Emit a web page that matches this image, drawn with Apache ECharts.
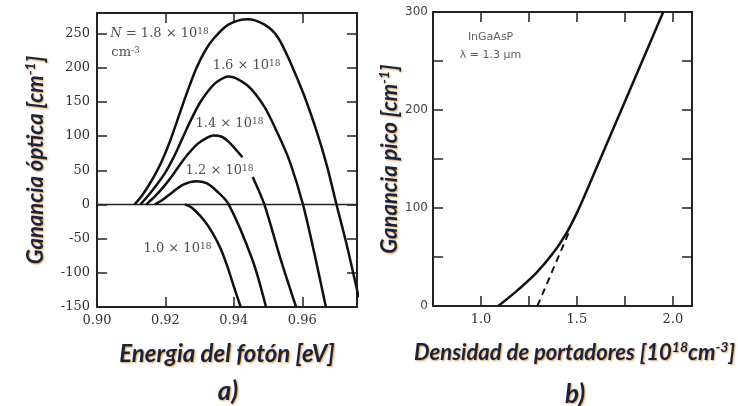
<!DOCTYPE html>
<html><head><meta charset="utf-8">
<script src="https://cdn.jsdelivr.net/npm/echarts@6/dist/echarts.min.js"></script>
<style>html,body{margin:0;padding:0;background:#fff}#c{width:738px;height:406px}</style>
</head><body><div id="c"></div>
<script>
// ---- panel a) : gain spectra, photon energy [eV] vs gain [cm^-1]
const curveN18 = [[0.911,0],[0.913,12],[0.915,27],[0.917,44],[0.919,64],[0.921,88],[0.923,116],[0.925,145],[0.927,173],[0.9291,200],[0.9315,224],[0.934,242],[0.9384,263],[0.944,271],[0.949,263],[0.9528,245],[0.9566,207],[0.9605,160],[0.9644,104],[0.9673,55],[0.970,0],[0.9728,-55],[0.9757,-118],[0.9765,-136]];
const curveN16 = [[0.9127,0],[0.915,13],[0.9175,29],[0.920,47],[0.9225,70],[0.925,97],[0.9275,124],[0.930,148],[0.9325,166],[0.935,179],[0.9385,187],[0.944,174],[0.9489,143],[0.9528,104],[0.9564,62],[0.9602,0],[0.964,-82],[0.9669,-150]];
const curveN14 = [[0.9144,0],[0.917,12],[0.9195,26],[0.922,42],[0.9245,60],[0.927,76],[0.9295,89],[0.932,97],[0.934,101],[0.9365,99],[0.9388,90],[0.9425,69],[0.944,'-'],[0.9455,40],[0.9489,0],[0.9538,-82],[0.9582,-150]];
const curveN12 = [[0.9169,0],[0.919,6],[0.9213,15],[0.9252,29],[0.9291,34],[0.932,31],[0.9349,20],[0.9385,0],[0.9455,-82],[0.9494,-150]];
const curveN10 = [[0.9257,0],[0.928,-6],[0.932,-28],[0.9359,-62],[0.9382,-92],[0.940,-120],[0.942,-150]];
const zeroLine = [[0.90,0],[0.976,0]];
const aXTicks = [0.90,0.92,0.94,0.96];
const aYTicks = [-150,-100,-50,0,50,100,150,200,250];
const aCurveLabels = ['1.6 × 10{sup|18}','1.4 × 10{sup|18}','1.2 × 10{sup|18}','1.0 × 10{sup|18}'];

// ---- panel b) : peak gain vs carrier density [10^18 cm^-3]
const peakGain = [[1.09,0],[1.19,16],[1.29,34],[1.38,55],[1.45,76],[1.50,95],[1.55,117],[1.60,140],[1.95,300]];
const linearFit = [[1.294,0],[1.46,76]];
const bXTicks = [1.0,1.5,2.0];
const bYTicks = [0,100,200,300];

const near = (arr, v) => arr.some(t => Math.abs(t - v) < 1e-6);
const serif = 'DejaVu Serif';
const titleFont = 'Lato';
const navy = '#13244a';
const glow = {textShadowColor:'rgba(235,150,50,0.95)', textShadowBlur:2, textShadowOffsetX:1, textShadowOffsetY:1};
const supRich = {
  sup:{fontSize:9, fontFamily:serif, color:'#222', verticalAlign:'top', padding:[0,0,4,0]},
  it:{fontSize:13, fontFamily:serif, color:'#222', fontStyle:'italic'}
};
const titleRich = {
  sup:Object.assign({fontSize:14, fontFamily:titleFont, fontWeight:'bold', fontStyle:'italic', color:navy, verticalAlign:'top', padding:[0,0,12,0]}, glow)
};
const frameLine = {show:true, onZero:false, lineStyle:{color:'#222', width:2}};
const tick = {show:true, inside:true, length:10, lineStyle:{color:'#222', width:1.5}};

function nameStyle(extra){
  return Object.assign({fontFamily:titleFont, fontSize:22, fontWeight:'bold', fontStyle:'italic', color:navy, rich:titleRich}, glow, extra||{});
}

const lineBase = {type:'line', showSymbol:false, symbol:'none', smooth:0.3, clip:true, silent:true,
  lineStyle:{color:'#111', width:2.5}, animation:false};

const option = {
  backgroundColor:'#fff',
  animation:false,
  title:[
    {text:'a)', left:223, top:374, textAlign:'center', textStyle:Object.assign({fontFamily:titleFont, fontSize:26, fontWeight:'bold', fontStyle:'italic', color:navy}, glow)},
    {text:'b)', left:570, top:377, textAlign:'center', textStyle:Object.assign({fontFamily:titleFont, fontSize:26, fontWeight:'bold', fontStyle:'italic', color:navy}, glow)}
  ],
  grid:[
    {left:97, right:381, top:13, bottom:99},
    {left:433, right:43, top:12, bottom:100}
  ],
  xAxis:[
    {type:'value', gridIndex:0, position:'bottom', min:0.90, max:0.976, interval:0.02,
     axisLine:frameLine, axisTick:tick, splitLine:{show:false},
     axisLabel:{margin:7, fontFamily:serif, fontSize:13, color:'#333', showMaxLabel:false,
       formatter:v => near(aXTicks, v) ? v.toFixed(2) : ''},
     name:'Energia del fotón [eV]', nameLocation:'middle', nameGap:35, nameTextStyle:nameStyle({fontSize:24})},
    {type:'value', gridIndex:0, position:'top', min:0.90, max:0.976, interval:0.02,
     axisLine:frameLine, axisTick:tick, axisLabel:{show:false}, splitLine:{show:false}},
    {type:'value', gridIndex:1, position:'bottom', min:0.75, max:2.1, interval:0.25,
     axisLine:frameLine, axisTick:tick, splitLine:{show:false},
     axisLabel:{margin:7, fontFamily:serif, fontSize:13, color:'#333', showMaxLabel:false,
       formatter:v => near(bXTicks, v) ? v.toFixed(1) : ''},
     name:'Densidad de portadores [10{sup|18}cm{sup|-3}]', nameLocation:'middle', nameGap:34,
     nameTextStyle:nameStyle({padding:[0,0,0,24]})},
    {type:'value', gridIndex:1, position:'top', min:0.75, max:2.1, interval:0.25,
     axisLine:frameLine, axisTick:tick, axisLabel:{show:false}, splitLine:{show:false}}
  ],
  yAxis:[
    {type:'value', gridIndex:0, position:'left', min:-150, max:280, interval:50,
     axisLine:frameLine, axisTick:tick, splitLine:{show:false},
     axisLabel:{margin:7, fontFamily:serif, fontSize:13, color:'#333', showMaxLabel:false,
       formatter:v => near(aYTicks, v) ? String(v) : ''},
     name:'Ganancia óptica [cm{sup|-1}]', nameLocation:'middle', nameRotate:90, nameGap:48,
     nameTextStyle:nameStyle()},
    {type:'value', gridIndex:0, position:'right', min:-150, max:280, interval:50,
     axisLine:frameLine, axisTick:tick, axisLabel:{show:false}, splitLine:{show:false}},
    {type:'value', gridIndex:1, position:'left', min:0, max:300, interval:50,
     axisLine:frameLine, axisTick:tick, splitLine:{show:false},
     axisLabel:{margin:5, fontFamily:'DejaVu Sans', fontSize:12, color:'#444',
       formatter:v => near(bYTicks, v) ? String(v) : ''},
     name:'Ganancia pico [cm{sup|-1}]', nameLocation:'middle', nameRotate:90, nameGap:30,
     nameTextStyle:nameStyle()},
    {type:'value', gridIndex:1, position:'right', min:0, max:300, interval:50,
     axisLine:frameLine, axisTick:tick, axisLabel:{show:false}, splitLine:{show:false}}
  ],
  series:[
    Object.assign({}, lineBase, {name:'zero', xAxisIndex:0, yAxisIndex:0, data:zeroLine, smooth:false,
      lineStyle:{color:'#222', width:1.5}}),
    Object.assign({}, lineBase, {name:'N=1.8', xAxisIndex:0, yAxisIndex:0, data:curveN18}),
    Object.assign({}, lineBase, {name:'N=1.6', xAxisIndex:0, yAxisIndex:0, data:curveN16}),
    Object.assign({}, lineBase, {name:'N=1.4', xAxisIndex:0, yAxisIndex:0, data:curveN14, connectNulls:false}),
    Object.assign({}, lineBase, {name:'N=1.2', xAxisIndex:0, yAxisIndex:0, data:curveN12}),
    Object.assign({}, lineBase, {name:'N=1.0', xAxisIndex:0, yAxisIndex:0, data:curveN10}),
    {type:'scatter', xAxisIndex:0, yAxisIndex:0, symbolSize:0, silent:true, animation:false,
     label:{show:true, position:[0,0], align:'left', verticalAlign:'middle',
       fontFamily:serif, fontSize:13, color:'#222', rich:supRich,
       formatter:p => p.data[2]},
     data:[
       [0.9039,250,'{it|N} = 1.8 × 10{sup|18}'],
       [0.9042,222,'cm{sup|-3}'],
       [0.9338,203,aCurveLabels[0]],
       [0.9288,118,aCurveLabels[1]],
       [0.9259,50,aCurveLabels[2]],
       [0.9136,-64,aCurveLabels[3]]
     ]},
    Object.assign({}, lineBase, {name:'peak', xAxisIndex:2, yAxisIndex:2, data:peakGain, smooth:0.35}),
    Object.assign({}, lineBase, {name:'fit', xAxisIndex:2, yAxisIndex:2, data:linearFit, smooth:false,
      lineStyle:{color:'#111', width:2, type:[7,5]}}),
    {type:'scatter', xAxisIndex:2, yAxisIndex:2, symbolSize:0, silent:true, animation:false,
     label:{show:true, position:[0,0], align:'center', verticalAlign:'middle',
       fontFamily:'DejaVu Sans', fontSize:11, color:'#333', formatter:p => p.data[2]},
     data:[[1.05,274,'InGaAsP'],[1.05,256,'λ = 1.3 μm']]}
  ]
};
const chart = echarts.init(document.getElementById('c'), null, {renderer:'canvas'});
chart.setOption(option);
</script></body></html>
